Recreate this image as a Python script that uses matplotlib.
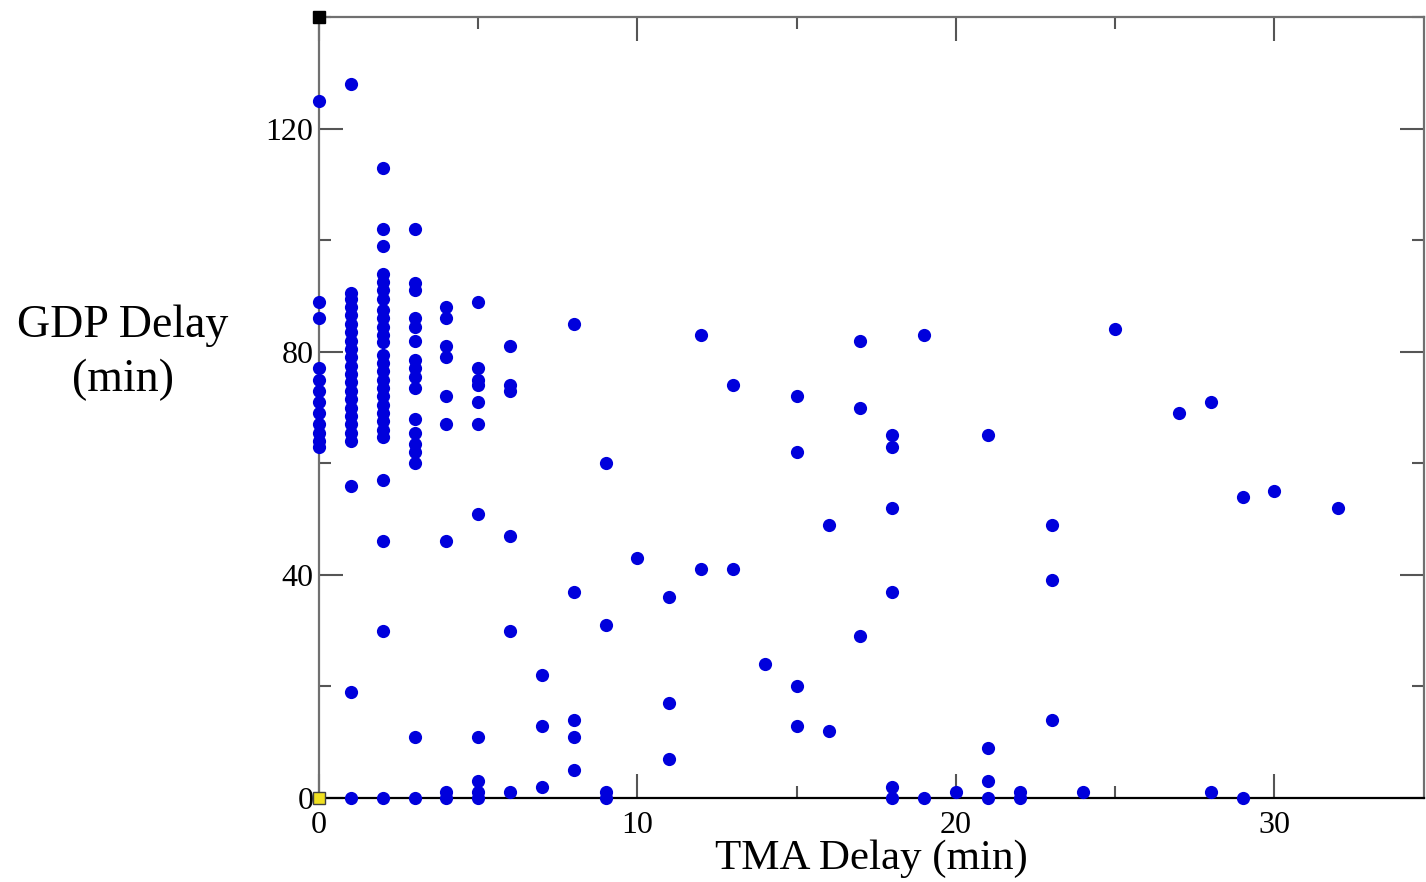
import numpy as np
import matplotlib
matplotlib.use('Agg')
import matplotlib.pyplot as plt
from matplotlib.ticker import MultipleLocator

# TMA delay (min) of each column and the GDP delays (min) found in it
tma_delay = [0, 1, 2, 3, 4, 5, 6, 7, 8, 9, 10, 11, 12, 13, 14, 15, 16,
             17, 18, 19, 20, 21, 22, 23, 24, 25, 27, 28, 29, 30, 32]
gdp_delay = [
    [125, 89, 86, 77, 75, 73, 71, 69, 67, 65.5, 64, 63],
    [128, 90.5, 89.5, 88, 86.5, 85, 83.5, 82, 80.5, 79, 77.5, 76, 74.5, 73,
     71.5, 70, 68.5, 67, 65.5, 64, 56, 19, 0],
    [113, 102, 99, 94, 92.5, 91, 89.5, 87.5, 86, 84.5, 83, 81.7, 79.5, 78,
     76.5, 75, 73.5, 72, 70.5, 69, 67.5, 66, 64.7, 57, 46, 30, 0],
    [102, 92.3, 91, 86, 84.5, 82, 78.5, 77, 75.5, 73.5, 68, 65.5, 63.5, 62,
     60, 11, 0],
    [88, 86, 81, 79, 72, 67, 46, 1, 0],
    [89, 77, 75, 74, 71, 67, 51, 11, 3, 1, 0],
    [81, 74, 73, 47, 30, 1],
    [22, 13, 2],
    [85, 37, 14, 11, 5],
    [60, 31, 1, 0],
    [43],
    [36, 17, 7],
    [83, 41],
    [74, 41],
    [24],
    [72, 62, 20, 13],
    [49, 12],
    [82, 70, 29],
    [65, 63, 52, 37, 2, 0],
    [83, 0],
    [1],
    [65, 9, 3, 0],
    [1, 0],
    [49, 39, 14],
    [1],
    [84],
    [69],
    [71, 1],
    [54, 0],
    [55],
    [52],
]

xs = np.concatenate([[t] * len(g) for t, g in zip(tma_delay, gdp_delay)])
ys = np.concatenate(gdp_delay)

plt.rcParams['font.family'] = ['Liberation Serif', 'DejaVu Serif']

fig = plt.figure(figsize=(14.26, 8.82), dpi=100)
ax = fig.add_axes([0.2237, 0.0952, 0.775, 0.8855])

ax.plot(xs, ys, 'o', color='#0000dc', ms=9.5, mew=0, clip_on=False, zorder=3)
# corner markers left by the plotting program
ax.plot([0], [0], 's', color='#f0e020', mec='#404040', ms=9, mew=1,
        clip_on=False, zorder=4)
ax.plot([0], [140], 's', color='black', ms=9, clip_on=False, zorder=4)

ax.set_xlim(0, 34.7)
ax.set_ylim(0, 140)
ax.xaxis.set_major_locator(MultipleLocator(10))
ax.xaxis.set_minor_locator(MultipleLocator(5))
ax.yaxis.set_major_locator(MultipleLocator(40))
ax.yaxis.set_minor_locator(MultipleLocator(20))

ax.tick_params(which='both', direction='in', top=True, right=True,
               color='#555555', width=1.5, labelsize=23)
ax.tick_params(which='major', length=17, pad=9)
ax.tick_params(which='minor', length=8.5)
ax.tick_params(axis='y', pad=4)

for side in ['left', 'top', 'right']:
    ax.spines[side].set_color('#707070')
    ax.spines[side].set_linewidth(1.6)
ax.spines['bottom'].set_color('black')
ax.spines['bottom'].set_linewidth(1.6)

ax.set_xlabel('TMA Delay (min)', fontsize=31, labelpad=0)
fig.text(123 / 1426, 1 - 353 / 882, 'GDP Delay\n(min)', fontsize=33,
         ha='center', va='center', multialignment='center', linespacing=1.35)

plt.savefig('out.png', dpi=100)
plt.close()
